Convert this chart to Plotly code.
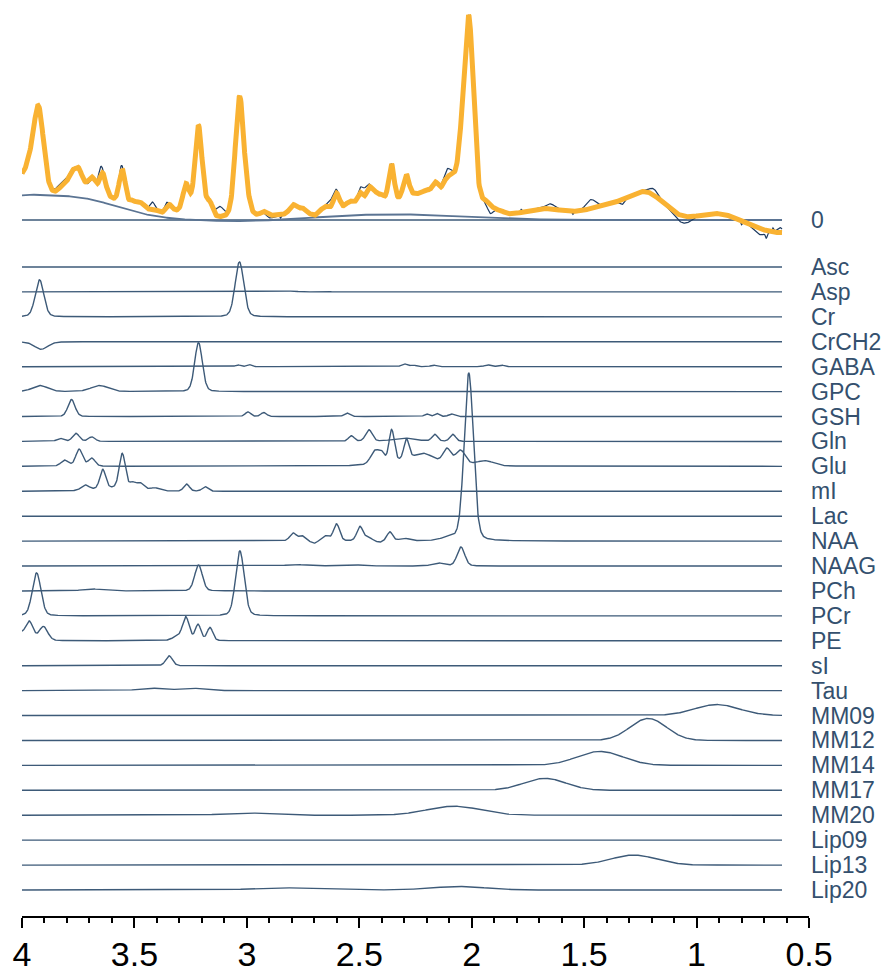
import numpy as np
import plotly.graph_objects as go

# ---------------- data ----------------
# chemical-shift window of the spectrum (ppm)
PPM_START = 4.0
PPM_END = 0.62

# each component: list of [centre ppm, height, FWHM ppm]
COMPONENT_NAMES = ["Asc", "Asp", "Cr", "CrCH2", "GABA", "GPC", "GSH", "Gln", "Glu",
                   "mI", "Lac", "NAA", "NAAG", "PCh", "PCr", "PE", "sI", "Tau",
                   "MM09", "MM12", "MM14", "MM17", "MM20", "Lip09", "Lip13", "Lip20"]

asc_peaks = []
asp_peaks = [[2.80, 0.8, 0.05], [2.66, 0.8, 0.05]]
cr_peaks = [[3.033, 55, 0.045], [3.922, 37, 0.045]]
crch2_peaks = [[3.915, -7.5, 0.07]]
gaba_peaks = [[3.04, 1.8, 0.025], [2.99, 2.2, 0.025], [2.30, 2.8, 0.03], [2.26, 1.5, 0.03],
              [2.17, 1.5, 0.03], [1.93, 1.8, 0.03], [1.87, 1.8, 0.03]]
gpc_peaks = [[3.215, 49, 0.04], [3.92, 6, 0.08], [3.655, 6, 0.09]]
gsh_peaks = [[3.78, 17, 0.037], [2.995, 4.5, 0.03], [2.925, 4, 0.03], [2.555, 3.5, 0.03],
             [2.20, 2.5, 0.025], [2.155, 3, 0.025], [2.09, 2.5, 0.03]]
gln_peaks = [[3.83, 3, 0.035], [3.76, 8, 0.035], [3.69, 4.5, 0.035], [2.535, 5.5, 0.03],
             [2.457, 11.5, 0.035], [2.30, 3.3, 0.12], [2.164, 7, 0.03], [2.084, 7, 0.03]]
glu_peaks = [[3.81, 6, 0.04], [3.746, 17, 0.035], [3.69, 8, 0.035], [2.25, 6, 0.3],
             [2.43, 13, 0.045], [2.40, 8, 0.03], [2.356, 32, 0.028], [2.29, 20, 0.028],
             [2.215, 7, 0.09], [2.11, 14, 0.04], [2.05, 14, 0.05], [1.94, 5, 0.09]]
mi_peaks = [[3.72, 5, 0.04], [3.641, 19, 0.03], [3.554, 35, 0.032], [3.6, 3, 0.2],
            [3.51, 6, 0.03], [3.475, 7, 0.04], [3.41, 3, 0.05], [3.268, 7, 0.03],
            [3.186, 4.5, 0.03]]
lac_peaks = []
naa_peaks = [[2.013, 168, 0.048], [2.794, 8, 0.035], [2.755, 5, 0.03], [2.70, -2.5, 0.03],
             [2.65, 5, 0.04], [2.601, 17, 0.032], [2.497, 14.5, 0.032], [2.46, 4, 0.03],
             [2.41, -1.5, 0.03], [2.364, 9, 0.03], [2.30, 2.5, 0.05], [2.10, 3, 0.08]]
naag_peaks = [[2.048, 19, 0.04], [2.15, 3, 0.06], [2.55, 1.5, 0.12], [2.78, 1.5, 0.1]]
pch_peaks = [[3.215, 26, 0.04], [3.69, 2, 0.1]]
pcr_peaks = [[3.031, 65, 0.045], [3.935, 43, 0.045]]
pe_peaks = [[4.01, 7, 0.04], [3.968, 19, 0.04], [3.905, 14, 0.045], [3.31, 4, 0.05],
            [3.271, 23, 0.035], [3.217, 16, 0.03], [3.164, 13, 0.03]]
si_peaks = [[3.346, 10, 0.035]]
tau_peaks = [[3.43, 2.5, 0.12], [3.25, 2.5, 0.12]]
mm09_peaks = [[0.91, 11, 0.235]]
mm12_peaks = [[1.215, 22, 0.19]]
mm14_peaks = [[1.43, 14, 0.24]]
mm17_peaks = [[1.675, 12, 0.22]]
mm20_peaks = [[2.08, 9, 0.28], [3.0, 2.2, 0.25]]
lip09_peaks = []
lip13_peaks = [[1.28, 10, 0.24]]
lip20_peaks = [[2.84, 2.2, 0.3], [2.06, 3.5, 0.28]]

COMPONENT_PEAKS = [asc_peaks, asp_peaks, cr_peaks, crch2_peaks, gaba_peaks, gpc_peaks,
                   gsh_peaks, gln_peaks, glu_peaks, mi_peaks, lac_peaks, naa_peaks,
                   naag_peaks, pch_peaks, pcr_peaks, pe_peaks, si_peaks, tau_peaks,
                   mm09_peaks, mm12_peaks, mm14_peaks, mm17_peaks, mm20_peaks,
                   lip09_peaks, lip13_peaks, lip20_peaks]
BROAD = {"MM09", "MM12", "MM14", "MM17", "MM20", "Lip09", "Lip13", "Lip20"}

# spline baseline of the fit (broad terms)
baseline_peaks = [[3.79, 23, 0.48], [4.04, 12, 0.25], [3.0, -1.5, 0.4], [2.35, 5.7, 0.7]]
# part of the fit not shown as a separate curve
fit_extra_peaks = [[4.0, 10, 0.06], [3.93, 6, 0.06], [2.5, 4, 0.4], [2.012, 14, 0.05],
                   [1.40, -5, 0.5], [0.95, -3.5, 0.35], [0.62, -12.5, 0.3]]
# where the measured data departs from the fit
data_residual_peaks = [[3.82, 4, 0.08], [3.653, 10, 0.02], [3.70, -3, 0.03], [3.565, 7, 0.02],
                       [3.42, 7, 0.025], [3.36, 5, 0.02], [3.12, 10, 0.04], [2.90, -3, 0.05],
                       [2.62, 7, 0.04], [2.48, 8, 0.04], [2.11, 8, 0.04], [1.92, -9, 0.03],
                       [1.65, 5, 0.05], [1.47, 9, 0.05], [1.33, -5, 0.03], [1.19, 6, 0.05],
                       [1.06, -7, 0.08], [0.72, -6, 0.06], [0.63, 5, 0.03],
                       [3.45, 3, 0.008], [2.85, -3, 0.008], [1.78, 3, 0.008], [1.55, -3, 0.008],
                       [1.00, 3, 0.008], [0.80, -4, 0.008], [0.69, -5, 0.008], [0.66, 4, 0.008]]

TICK_VALS = [4, 3.5, 3, 2.5, 2, 1.5, 1, 0.5]
TICK_TEXT = ["4", "3.5", "3", "2.5", "2", "1.5", "1", "0.5"]

# ---------------- layout constants ----------------
W, H = 886, 978
ML, MR, MT, MB = 22, 77, 0, 62
PLOT_H = H - MT - MB
ZERO_TOP = 696
ROW0 = 649
ROW_STEP = 24.92
ROW_COL = "#3d5a78"
LABEL_COL = "#34506e"
FIT_COL = "#F9B232"
DATA_COL = "#1d3a60"
FONT = "Liberation Sans, Arial, sans-serif"

ppm = np.linspace(PPM_START, PPM_END, 1691)


def lineshape(peaks, lfrac):
    y = np.zeros_like(ppm)
    for c, h, w in peaks:
        d = (ppm - c) / w
        y += h * ((1 - lfrac) * np.exp(-4 * np.log(2) * d * d) + lfrac / (1 + 4 * d * d))
    return y


comps = []
for name, pk in zip(COMPONENT_NAMES, COMPONENT_PEAKS):
    comps.append(lineshape(pk, 0.0 if name in BROAD else 0.2))

baseline = lineshape(baseline_peaks, 0.0)
fit = np.sum(comps, axis=0) + baseline + lineshape(fit_extra_peaks, 0.0)
data = fit + lineshape(data_residual_peaks, 0.0)

fig = go.Figure()

# top panel
fig.add_trace(go.Scatter(x=ppm, y=np.full_like(ppm, ZERO_TOP), mode="lines",
                         line=dict(color=ROW_COL, width=1.6), hoverinfo="skip"))
fig.add_trace(go.Scatter(x=ppm, y=ZERO_TOP + baseline, mode="lines",
                         line=dict(color="#5b7493", width=1.8), hoverinfo="skip"))
fig.add_trace(go.Scatter(x=ppm, y=ZERO_TOP + data, mode="lines",
                         line=dict(color=DATA_COL, width=1.2), hoverinfo="skip"))
fig.add_trace(go.Scatter(x=ppm, y=ZERO_TOP + fit, mode="lines",
                         line=dict(color=FIT_COL, width=5), hoverinfo="skip"))

annotations = [dict(x=1, xref="paper", y=ZERO_TOP, yref="y", text="0", showarrow=False,
                    xanchor="left", yanchor="middle", xshift=0,
                    font=dict(family=FONT, size=23, color=LABEL_COL))]

for i, (name, comp) in enumerate(zip(COMPONENT_NAMES, comps)):
    off = ROW0 - ROW_STEP * i
    fig.add_trace(go.Scatter(x=ppm, y=off + comp, mode="lines",
                             line=dict(color=ROW_COL, width=1.4), hoverinfo="skip"))
    annotations.append(dict(x=1, xref="paper", y=off, yref="y", text=name, showarrow=False,
                            xanchor="left", yanchor="middle", xshift=0,
                            font=dict(family=FONT, size=23, color=LABEL_COL)))

fig.update_layout(
    width=W, height=H, showlegend=False,
    margin=dict(l=ML, r=MR, t=MT, b=MB, autoexpand=False),
    paper_bgcolor="white", plot_bgcolor="white",
    annotations=annotations,
    xaxis=dict(range=[4, 0.5], showgrid=False, zeroline=False,
               showline=True, linecolor="black", linewidth=2,
               ticks="outside", ticklen=10, tickwidth=2, tickcolor="black",
               tickmode="array", tickvals=TICK_VALS, ticktext=TICK_TEXT,
               ticklabelstandoff=-3,
               tickfont=dict(family=FONT, size=34, color="black"),
               minor=dict(dtick=0.1, tick0=0, ticks="outside", ticklen=5, tickwidth=2,
                          tickcolor="black", showgrid=False)),
    yaxis=dict(range=[0, PLOT_H], visible=False, showgrid=False, zeroline=False),
)

fig.write_html("out.html")
